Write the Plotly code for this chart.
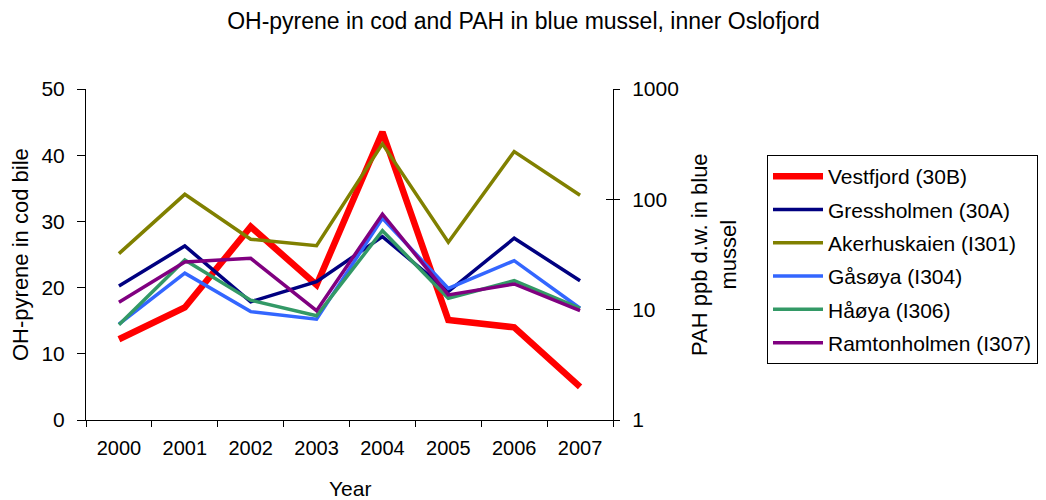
import plotly.graph_objects as go

years = ["2000", "2001", "2002", "2003", "2004", "2005", "2006", "2007"]

# OH-pyrene in cod bile (left axis)
vestfjord_30B = [12.2, 17.0, 29.2, 20.4, 43.5, 15.1, 14.0, 5.0]
# PAH ppb d.w. in blue mussel (right log axis)
gressholmen_30A = [16.4, 37.8, 11.8, 17.9, 45.9, 14.6, 44.4, 18.3]
akerhuskaien_I301 = [32.2, 111, 43.5, 38.0, 318, 40.8, 271, 109]
gasoya_I304 = [7.4, 21.4, 9.6, 8.2, 67.4, 15.6, 27.8, 10.3]
haoya_I306 = [7.3, 28.2, 12.2, 8.8, 52.0, 12.7, 18.3, 10.3]
ramtonholmen_I307 = [11.7, 27.1, 29.2, 9.8, 73.3, 13.6, 17.1, 9.8]

left_ticks = [0, 10, 20, 30, 40, 50]
right_ticks = [1, 10, 100, 1000]

FONT = "Arial, Liberation Sans, sans-serif"

# the page body has an 8px margin, so figure coordinates = page coordinates - 8
OFF = 8
PL, PR, PT, PB = 86 - OFF, 613 - OFF, 89 - OFF, 420 - OFF
W, H = 1046, 500
PW, PH = PR - PL, PB - PT


def px_x(x):
    return (x - OFF - PL) / PW


def px_y(y):
    return (PB - (y - OFF)) / PH


fig = go.Figure()

mussel_series = [
    ("Gressholmen (30A)", gressholmen_30A, "#000080"),
    ("Akerhuskaien (I301)", akerhuskaien_I301, "#808000"),
    ("Gåsøya (I304)", gasoya_I304, "#3366FF"),
    ("Håøya (I306)", haoya_I306, "#339966"),
    ("Ramtonholmen (I307)", ramtonholmen_I307, "#800080"),
]

fig.add_trace(go.Scatter(x=years, y=vestfjord_30B, name="Vestfjord (30B)", mode="lines",
                         line=dict(color="#FF0000", width=6.5), yaxis="y", legendgroup="g0"))
for i, (nm, vals, col) in enumerate(mussel_series):
    fig.add_trace(go.Scatter(x=years, y=vals, name=nm, mode="lines",
                             line=dict(color=col, width=3.5), yaxis="y2", legendgroup=f"g{i+1}"))
# invisible trace to drive the inner tick marks of the right axis
fig.add_trace(go.Scatter(x=years, y=akerhuskaien_I301, yaxis="y3", mode="lines",
                         line=dict(width=0), showlegend=False, hoverinfo="skip", opacity=0))

fig.update_layout(
    width=W, height=H,
    paper_bgcolor="white", plot_bgcolor="white",
    margin=dict(l=PL, r=W - PR, t=PT, b=H - PB, autoexpand=False),
    font=dict(family=FONT, size=20, color="black"),
    title=dict(text="OH-pyrene in cod and PAH in blue mussel, inner Oslofjord",
               x=(523.5 - OFF) / W, xref="container", xanchor="center",
               y=1 - (21 - OFF) / H, yref="container", yanchor="middle",
               font=dict(size=23, family=FONT, color="black")),
    xaxis=dict(type="category", range=[-0.5, 7.5], tickson="boundaries", ticks="outside", ticklen=6,
               tickcolor="black", showline=True, linecolor="black", linewidth=1,
               showgrid=False, zeroline=False, tickfont=dict(size=20),
               ticklabelstandoff=10),
    yaxis=dict(range=[0, 50], tickvals=left_ticks, ticks="outside", ticklen=8,
               tickcolor="black", showline=True, linecolor="black", linewidth=1,
               showgrid=False, zeroline=False, tickfont=dict(size=21),
               ticklabelstandoff=8),
    yaxis2=dict(type="log", range=[0, 3], tickvals=right_ticks,
                ticktext=[str(v) for v in right_ticks],
                overlaying="y", side="right", ticks="outside", ticklen=6,
                tickcolor="black", showline=True, linecolor="black", linewidth=1,
                showgrid=False, zeroline=False, tickfont=dict(size=21),
                ticklabelstandoff=8),
    yaxis3=dict(type="log", range=[0, 3], tickvals=right_ticks, showticklabels=False,
                overlaying="y", side="right", ticks="inside", ticklen=7,
                tickcolor="black", showline=False, showgrid=False, zeroline=False),
    legend=dict(x=px_x(767), xanchor="left", y=px_y(155), yanchor="top",
                bgcolor="white", bordercolor="black", borderwidth=1,
                font=dict(size=21, family=FONT, color="black"),
                traceorder="grouped", tracegroupgap=3, itemwidth=50),
    showlegend=True,
    annotations=[
        dict(text="OH-pyrene in cod bile", xref="paper", yref="paper",
             x=px_x(20), y=px_y(255), textangle=-90, showarrow=False,
             xanchor="center", yanchor="middle", font=dict(size=22)),
        dict(text="PAH ppb d.w. in blue<br>mussel", xref="paper", yref="paper",
             x=px_x(714), y=px_y(255), textangle=-90, showarrow=False,
             xanchor="center", yanchor="middle", font=dict(size=22)),
        dict(text="Year", xref="paper", yref="paper",
             x=0.5, y=px_y(488), showarrow=False,
             xanchor="center", yanchor="middle", font=dict(size=21)),
    ],
)

fig.write_html("out.html")
